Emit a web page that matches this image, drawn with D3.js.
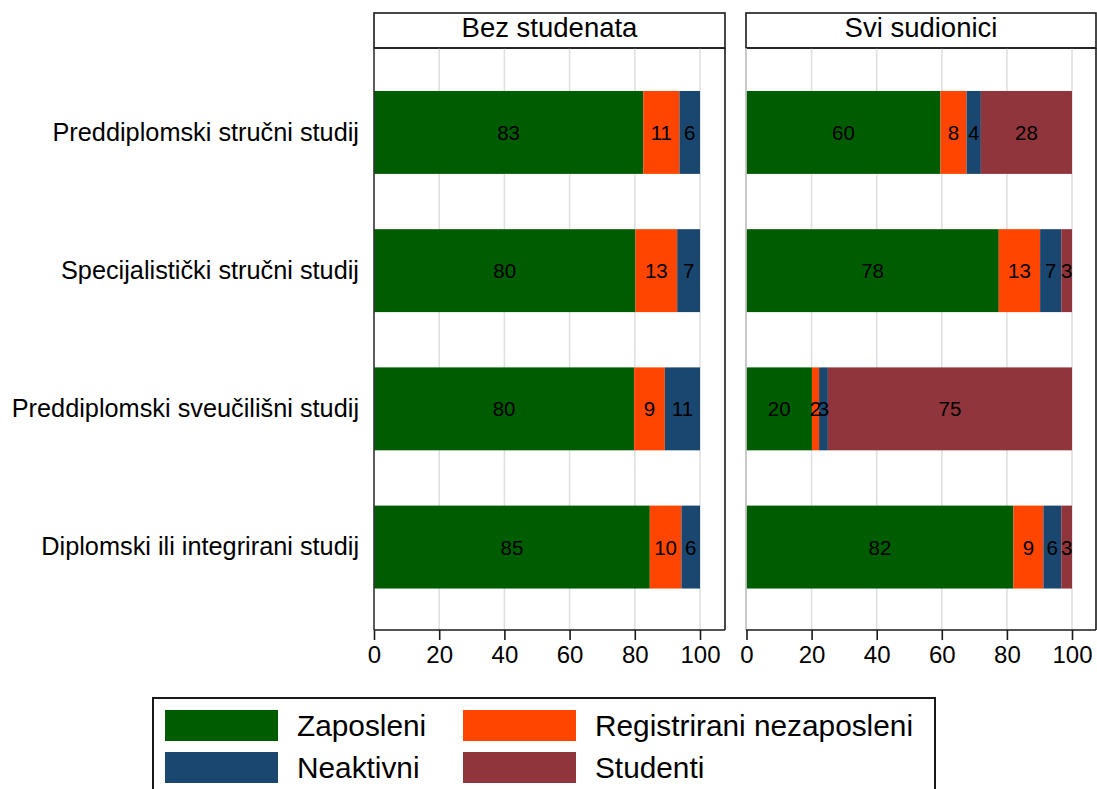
<!DOCTYPE html>
<html>
<head>
<meta charset="utf-8">
<script src="https://cdn.jsdelivr.net/npm/d3@7"></script>
<style>
  html, body { margin: 0; padding: 0; background: #fff; }
  svg { display: block; }
  text { font-family: "Liberation Sans", Arial, Helvetica, sans-serif; fill: #000; }
</style>
</head>
<body>
<div id="chart"></div>
<script>
// ---------- DATA ----------
const categories = [
  "Preddiplomski stručni studij",
  "Specijalistički stručni studij",
  "Preddiplomski sveučilišni studij",
  "Diplomski ili integrirani studij"
];
const panelTitles = ["Bez studenata", "Svi sudionici"];
const seriesNames = ["Zaposleni", "Registrirani nezaposleni", "Neaktivni", "Studenti"];
const seriesColors = ["#005c00", "#ff4500", "#1a476f", "#90353b"];
const xTicks = [0, 20, 40, 60, 80, 100];

// Panel 1: Bez studenata
const bezZaposleni     = [82.6, 80.2, 79.8, 84.6];
const bezRegistrirani  = [11.1, 12.8, 9.4, 9.7];
const bezNeaktivni     = [6.3, 7.0, 10.8, 5.7];
const bezStudenti      = [0, 0, 0, 0];

// Panel 2: Svi sudionici
const sviZaposleni     = [59.6, 77.5, 20.1, 82.0];
const sviRegistrirani  = [8.0, 12.7, 2.2, 9.2];
const sviNeaktivni     = [4.4, 6.5, 2.7, 5.5];
const sviStudenti      = [28.0, 3.3, 75.0, 3.3];

const panelData = [
  [bezZaposleni, bezRegistrirani, bezNeaktivni, bezStudenti],
  [sviZaposleni, sviRegistrirani, sviNeaktivni, sviStudenti]
];

// ---------- LAYOUT ----------
const W = 1097, H = 789;
const svg = d3.select("#chart").append("svg").attr("width", W).attr("height", H);

const panels = [
  { left: 374, right: 725, x0: 374, x1: 700 },
  { left: 746, right: 1096, x0: 746.5, x1: 1072 }
];
const headerTop = 13, headerBottom = 48;
const plotTop = 48, plotBottom = 630;

const y = d3.scaleBand()
  .domain(categories)
  .range([49.5, plotBottom])
  .paddingInner(0.4)
  .paddingOuter(0.3);

panels.forEach((p, pi) => {
  const x = d3.scaleLinear().domain([0, 100]).range([p.x0, p.x1]);
  const g = svg.append("g");

  // header box
  g.append("rect")
    .attr("x", p.left).attr("y", headerTop)
    .attr("width", p.right - p.left).attr("height", headerBottom - headerTop)
    .attr("fill", "#fff").attr("stroke", "#1a1a1a").attr("stroke-width", 1.6);
  g.append("text")
    .attr("x", (p.left + p.right) / 2).attr("y", 36.5)
    .attr("text-anchor", "middle")
    .style("font-size", "27.5px")
    .text(panelTitles[pi]);

  // gridlines
  g.selectAll("line.grid").data(xTicks.filter(d => d > 0)).enter().append("line")
    .attr("x1", d => x(d)).attr("x2", d => x(d))
    .attr("y1", plotTop).attr("y2", plotBottom)
    .attr("stroke", "#e0e0e0").attr("stroke-width", 1.6);

  // stacked bars
  const stackData = categories.map((c, i) => {
    const o = { cat: c };
    seriesNames.forEach((s, si) => { o[s] = panelData[pi][si][i]; });
    return o;
  });
  const stacked = d3.stack().keys(seriesNames)(stackData);
  stacked.forEach((layer, si) => {
    const lg = g.append("g");
    lg.selectAll("rect").data(layer.filter(d => d[1] - d[0] > 0)).enter().append("rect")
      .attr("x", d => x(d[0]))
      .attr("width", d => x(d[1]) - x(d[0]))
      .attr("y", d => y(d.data.cat))
      .attr("height", y.bandwidth())
      .attr("fill", seriesColors[si]);
  });
  stacked.forEach((layer) => {
    g.append("g").selectAll("text").data(layer.filter(d => d[1] - d[0] > 0)).enter().append("text")
      .attr("x", d => x((d[0] + d[1]) / 2))
      .attr("y", d => y(d.data.cat) + y.bandwidth() / 2 + 7.5)
      .attr("text-anchor", "middle")
      .style("font-size", "20.5px")
      .text(d => Math.round(d[1] - d[0]));
  });

  // frame
  g.append("line").attr("x1", p.right).attr("x2", p.right).attr("y1", plotTop).attr("y2", plotBottom)
    .attr("stroke", "#1a1a1a").attr("stroke-width", 1.6);
  g.append("line").attr("x1", p.left).attr("x2", p.right).attr("y1", plotTop).attr("y2", plotTop)
    .attr("stroke", "#1a1a1a").attr("stroke-width", 1.6);
  g.append("line").attr("x1", p.left).attr("x2", p.left).attr("y1", plotTop).attr("y2", plotBottom)
    .attr("stroke", pi === 0 ? "#333" : "#bbb").attr("stroke-width", 1.6);

  // x axis
  const xAxis = d3.axisBottom(x).tickValues(xTicks).tickSize(10).tickPadding(6).tickFormat(d3.format("d"));
  const ax = g.append("g").attr("transform", `translate(0,${plotBottom})`).call(xAxis);
  ax.select(".domain").attr("d", `M${p.left},0H${p.right}`).attr("stroke", "#1a1a1a").attr("stroke-width", 1.6);
  ax.selectAll(".tick line").attr("stroke", "#1a1a1a").attr("stroke-width", 1.6);
  ax.selectAll(".tick text").style("font-size", "24px").style("font-family", "'Liberation Sans', Arial, sans-serif").attr("fill", "#000");

  // y axis labels (left panel only)
  if (pi === 0) {
    const yAxis = d3.axisLeft(y).tickSize(0).tickPadding(15);
    const ay = g.append("g").attr("transform", `translate(${p.left},0)`).call(yAxis);
    ay.select(".domain").remove();
    ay.selectAll(".tick text").style("font-size", "25.3px").style("font-family", "'Liberation Sans', Arial, sans-serif").attr("fill", "#000");
  }
});

// ---------- LEGEND ----------
const legend = svg.append("g");
legend.append("rect")
  .attr("x", 153).attr("y", 698).attr("width", 782).attr("height", 110)
  .attr("fill", "#fff").attr("stroke", "#1a1a1a").attr("stroke-width", 2);
const legX = d3.scaleOrdinal().domain([0, 1]).range([165, 463]);
const legY = d3.scaleOrdinal().domain([0, 1]).range([710, 752]);
const legendItems = [
  { name: seriesNames[0], color: seriesColors[0], col: 0, row: 0 },
  { name: seriesNames[1], color: seriesColors[1], col: 1, row: 0 },
  { name: seriesNames[2], color: seriesColors[2], col: 0, row: 1 },
  { name: seriesNames[3], color: seriesColors[3], col: 1, row: 1 }
];
const li = legend.selectAll("g.item").data(legendItems).enter().append("g");
li.append("rect")
  .attr("x", d => legX(d.col)).attr("y", d => legY(d.row))
  .attr("width", 113).attr("height", 31)
  .attr("fill", d => d.color);
li.append("text")
  .attr("x", d => legX(d.col) + 132).attr("y", d => legY(d.row) + 26)
  .style("font-size", "29.8px")
  .text(d => d.name);
</script>
</body>
</html>
